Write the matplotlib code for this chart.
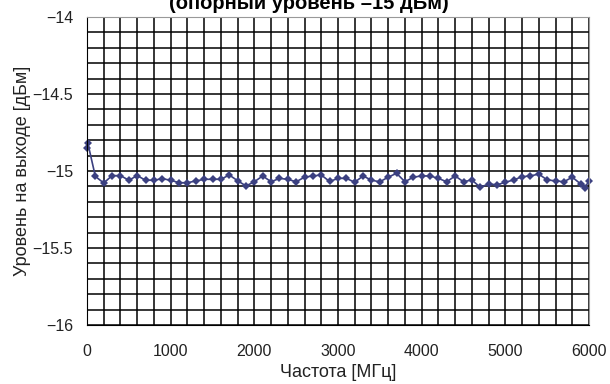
import matplotlib
matplotlib.use("Agg")
import matplotlib.pyplot as plt
from matplotlib.ticker import MultipleLocator

plt.rcParams['font.family'] = ['Liberation Sans', 'DejaVu Sans']

freq = [0, 10, 100, 200, 300, 400, 500, 600, 700, 800, 900, 1000, 1100, 1200,
        1300, 1400, 1500, 1600, 1700, 1800, 1900, 2000, 2100, 2200, 2300, 2400,
        2500, 2600, 2700, 2800, 2900, 3000, 3100, 3200, 3300, 3400, 3500, 3600,
        3700, 3800, 3900, 4000, 4100, 4200, 4300, 4400, 4500, 4600, 4700, 4800,
        4900, 5000, 5100, 5200, 5300, 5400, 5500, 5600, 5700, 5800, 5900, 5950, 6000]
level = [-14.85, -14.82, -15.035, -15.078, -15.03, -15.03, -15.06, -15.03, -15.06,
         -15.06, -15.05, -15.06, -15.076, -15.076, -15.065, -15.054, -15.054,
         -15.054, -15.026, -15.063, -15.097, -15.07, -15.032, -15.07, -15.048,
         -15.054, -15.07, -15.04, -15.032, -15.026, -15.068, -15.048, -15.048,
         -15.073, -15.032, -15.06, -15.07, -15.04, -15.015, -15.07, -15.04,
         -15.032, -15.032, -15.048, -15.07, -15.032, -15.07, -15.058, -15.106,
         -15.084, -15.09, -15.073, -15.058, -15.037, -15.032, -15.02, -15.058,
         -15.064, -15.07, -15.04, -15.084, -15.11, -15.063]

xticks = [0, 1000, 2000, 3000, 4000, 5000, 6000]
yticks = [-16, -15.5, -15, -14.5, -14]
ylabels = ["\u221216", "\u221215.5", "\u221215", "\u221214.5", "\u221214"]

fig = plt.figure(figsize=(6.1, 3.84), dpi=100)
ax = fig.add_axes([87/610, 1-325/384, (589-87)/610, (325-17)/384])

ax.set_xlim(0, 6000)
ax.set_ylim(-16, -14)
ax.xaxis.set_minor_locator(MultipleLocator(200))
ax.yaxis.set_minor_locator(MultipleLocator(0.1))
ax.set_xticks(xticks)
ax.set_xticklabels([str(t) for t in xticks])
ax.set_yticks(yticks)
ax.set_yticklabels(ylabels)
ax.grid(True, which='both', color='black', linewidth=1.1)
ax.set_axisbelow(True)
ax.tick_params(which='both', length=0, labelsize=11.5, colors='#222222')
ax.tick_params(axis='x', pad=14)
ax.tick_params(axis='y', pad=10)
for s in ['top', 'right']:
    ax.spines[s].set_color('#999999')
for s in ['left', 'bottom']:
    ax.spines[s].set_color('black')

ax.plot(freq, level, color='#3b4080', linewidth=1.2, marker='D', markersize=4,
        markeredgewidth=0, clip_on=False)

ax.set_xlabel("Частота [МГц]", fontsize=13, color='#222222', labelpad=3)
ax.set_ylabel("Уровень на выходе [дБм]", fontsize=13, color='#222222', labelpad=1)

fig.text(0.507, 1-9/384, "(опорный уровень \u201315 дБм)", ha='center', va='baseline',
         fontsize=14.5, fontweight='bold', color='black')

fig.savefig("out.png", dpi=100)
